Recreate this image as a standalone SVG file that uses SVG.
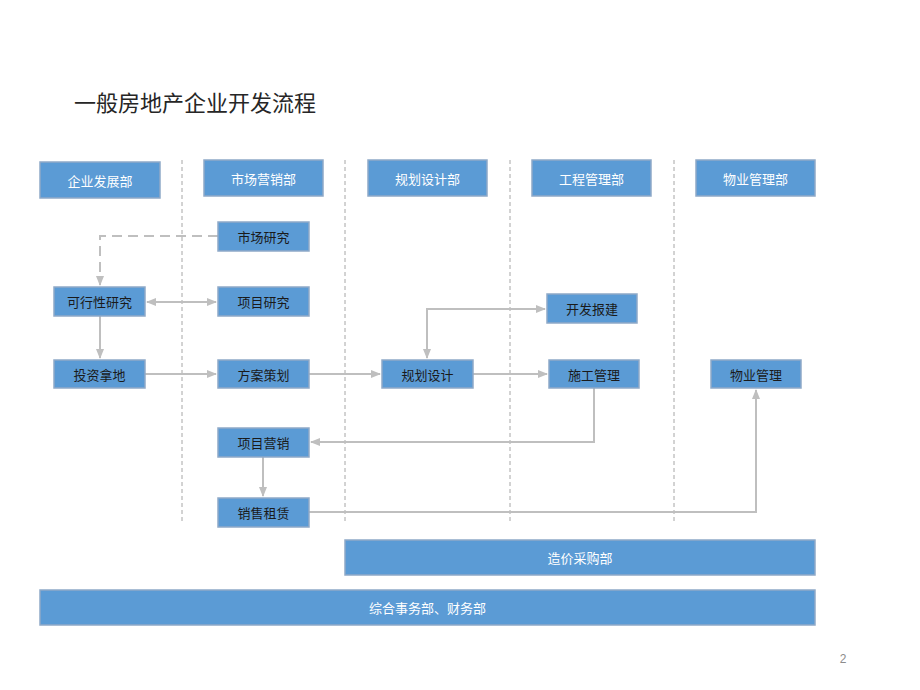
<svg xmlns="http://www.w3.org/2000/svg" width="920" height="690" viewBox="0 0 920 690">
<defs>
<style>
.box{fill:#5B9BD5;stroke:#8FA9C7;stroke-width:1.5}
.hd{font-family:"Noto Sans CJK SC","Liberation Sans",sans-serif;font-size:13px;fill:#FFFFFF;text-anchor:middle;dominant-baseline:central}
.nt{font-family:"Noto Sans CJK SC","Liberation Sans",sans-serif;font-size:13px;fill:#1A1A1A;text-anchor:middle;dominant-baseline:central}
.lane{stroke:#A6A6A6;stroke-width:1;stroke-dasharray:4 3;fill:none}
.con{stroke:#BFBFBF;stroke-width:2;fill:none}
</style>
<marker id="ah" viewBox="0 0 10 10" refX="9" refY="5" markerWidth="5" markerHeight="5" orient="auto-start-reverse" markerUnits="strokeWidth">
<path d="M0,1 L10,5 L0,9 z" fill="#BFBFBF"/>
</marker>
</defs>
<rect width="920" height="690" fill="#FFFFFF"/>
<text x="74" y="111" font-family="Noto Sans CJK SC,Liberation Sans,sans-serif" font-size="22" fill="#262626">一般房地产企业开发流程</text>
<g id="lanes">
<line class="lane" x1="182" y1="160" x2="182" y2="523"/>
<line class="lane" x1="345" y1="160" x2="345" y2="523"/>
<line class="lane" x1="510" y1="160" x2="510" y2="523"/>
<line class="lane" x1="674" y1="160" x2="674" y2="523"/>
</g>
<g id="connectors">
<path class="con" d="M218,236 L100,236 L100,285" stroke-dasharray="10 6" marker-end="url(#ah)"/>
<path class="con" d="M147,302 L216,302" marker-start="url(#ah)" marker-end="url(#ah)"/>
<path class="con" d="M100,316 L100,358" marker-end="url(#ah)"/>
<path class="con" d="M145,374 L216,374" marker-end="url(#ah)"/>
<path class="con" d="M309,374 L380,374" marker-end="url(#ah)"/>
<path class="con" d="M473,374 L547,374" marker-end="url(#ah)"/>
<path class="con" d="M427,358 L427,309 L545,309" marker-start="url(#ah)" marker-end="url(#ah)"/>
<path class="con" d="M594,388 L594,442 L311,442" marker-end="url(#ah)"/>
<path class="con" d="M263,457 L263,496" marker-end="url(#ah)"/>
<path class="con" d="M309,512 L756,512 L756,390" marker-end="url(#ah)"/>
</g>
<g id="h1"><rect class="box" x="40" y="162" width="120" height="36"/><text class="hd" x="100" y="180">企业发展部</text></g>
<g id="h2"><rect class="box" x="204" y="160" width="119" height="36"/><text class="hd" x="263.5" y="178">市场营销部</text></g>
<g id="h3"><rect class="box" x="368" y="160" width="119" height="36"/><text class="hd" x="427.5" y="178">规划设计部</text></g>
<g id="h4"><rect class="box" x="532" y="160" width="119" height="36"/><text class="hd" x="591.5" y="178">工程管理部</text></g>
<g id="h5"><rect class="box" x="696" y="160" width="119" height="36"/><text class="hd" x="755.5" y="178">物业管理部</text></g>
<g id="n_scyj"><rect class="box" x="218" y="222" width="91" height="29"/><text class="nt" x="263.5" y="236.5">市场研究</text></g>
<g id="n_kxx"><rect class="box" x="54" y="287" width="91" height="29"/><text class="nt" x="99.5" y="301.5">可行性研究</text></g>
<g id="n_xmyj"><rect class="box" x="218" y="287" width="91" height="29"/><text class="nt" x="263.5" y="301.5">项目研究</text></g>
<g id="n_kfbj"><rect class="box" x="547" y="294" width="90" height="29"/><text class="nt" x="592" y="308.5">开发报建</text></g>
<g id="n_tznd"><rect class="box" x="54" y="360" width="91" height="28"/><text class="nt" x="99.5" y="374">投资拿地</text></g>
<g id="n_fach"><rect class="box" x="218" y="360" width="91" height="28"/><text class="nt" x="263.5" y="374">方案策划</text></g>
<g id="n_ghsj"><rect class="box" x="382" y="360" width="91" height="28"/><text class="nt" x="427.5" y="374">规划设计</text></g>
<g id="n_sggl"><rect class="box" x="549" y="360" width="90" height="28"/><text class="nt" x="594" y="374">施工管理</text></g>
<g id="n_wygl"><rect class="box" x="711" y="360" width="90" height="28"/><text class="nt" x="756" y="374">物业管理</text></g>
<g id="n_xmyx"><rect class="box" x="218" y="428" width="91" height="29"/><text class="nt" x="263.5" y="442.5">项目营销</text></g>
<g id="n_xszl"><rect class="box" x="218" y="498" width="91" height="29"/><text class="nt" x="263.5" y="512.5">销售租赁</text></g>
<g id="b_zj"><rect class="box" x="345" y="540" width="470" height="35"/><text class="hd" x="580" y="557.5">造价采购部</text></g>
<g id="b_zh"><rect class="box" x="40" y="590" width="775" height="35"/><text class="hd" x="427.5" y="607.5">综合事务部、财务部</text></g>
<text x="843" y="663" font-family="Liberation Sans,sans-serif" font-size="12" fill="#8C8C8C" text-anchor="middle">2</text>
</svg>
